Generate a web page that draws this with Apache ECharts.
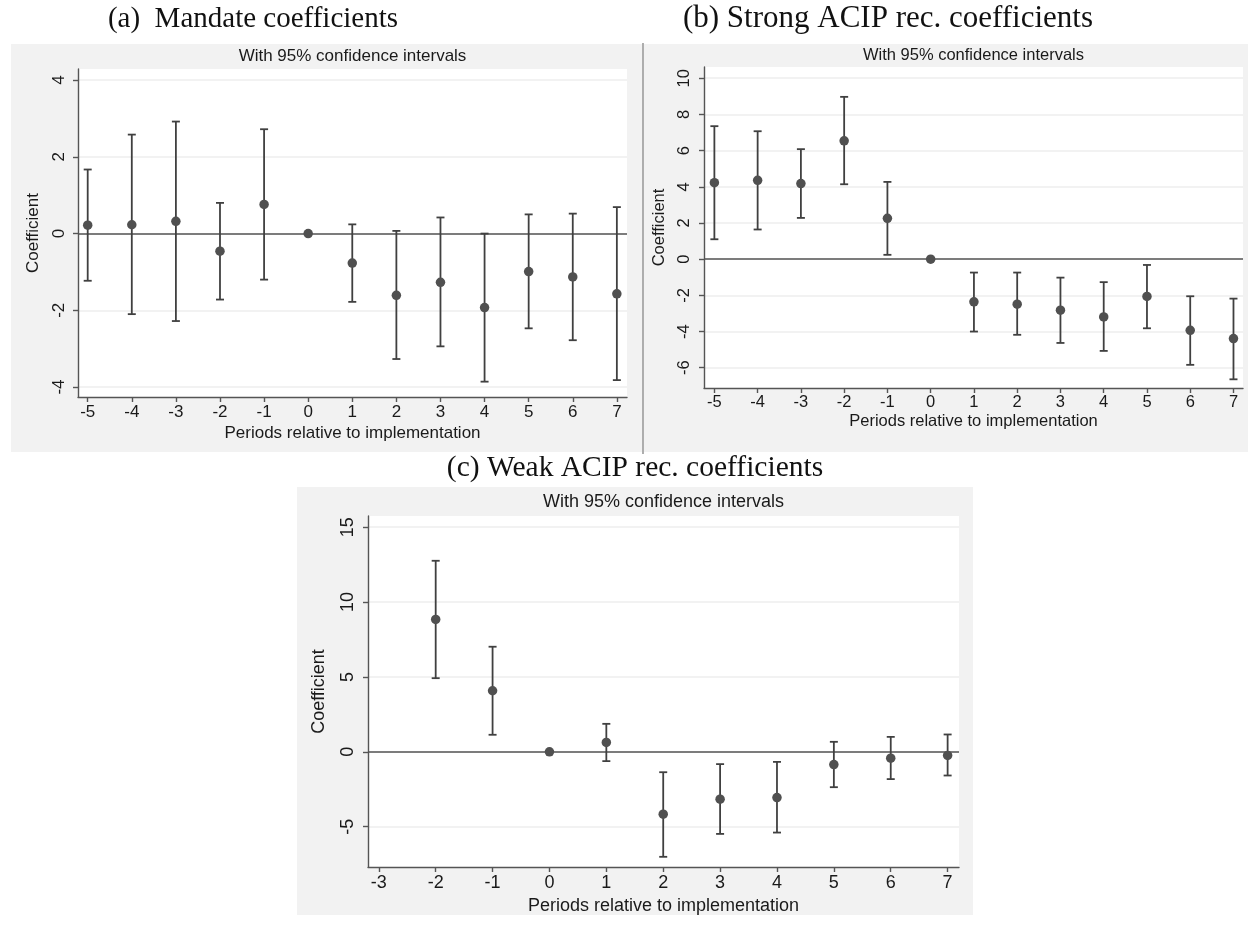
<!DOCTYPE html>
<html>
<head>
<meta charset="utf-8">
<script src="https://cdn.jsdelivr.net/npm/echarts@6/dist/echarts.min.js"></script>
<style>
html,body{margin:0;padding:0;background:#fff;}
#chart{width:1248px;height:930px;}
</style>
</head>
<body>
<div id="chart"></div>
<script>
// ---- data ----
const periodsA = [-5, -4, -3, -2, -1, 0, 1, 2, 3, 4, 5, 6, 7];
const coefA  = [0.22, 0.23, 0.32, -0.46, 0.76, 0, -0.77, -1.61, -1.27, -1.93, -0.99, -1.13, -1.57];
const upperA = [1.67, 2.58, 2.92, 0.80, 2.72, 0, 0.24, 0.07, 0.42, 0.00, 0.50, 0.52, 0.69];
const lowerA = [-1.23, -2.10, -2.28, -1.72, -1.20, 0, -1.78, -3.27, -2.94, -3.86, -2.47, -2.78, -3.82];

const periodsB = [-5, -4, -3, -2, -1, 0, 1, 2, 3, 4, 5, 6, 7];
const coefB  = [4.23, 4.36, 4.18, 6.54, 2.26, 0, -2.36, -2.49, -2.82, -3.19, -2.06, -3.93, -4.39];
const upperB = [7.35, 7.07, 6.08, 8.97, 4.27, 0, -0.74, -0.74, -1.02, -1.27, -0.32, -2.05, -2.18];
const lowerB = [1.10, 1.64, 2.28, 4.14, 0.24, 0, -4.00, -4.18, -4.63, -5.07, -3.82, -5.84, -6.64];

const periodsC = [-2, -1, 0, 1, 2, 3, 4, 5, 6, 7];
const coefC  = [8.84, 4.08, 0, 0.63, -4.16, -3.16, -3.05, -0.85, -0.42, -0.24];
const upperC = [12.76, 7.02, 0, 1.87, -1.36, -0.82, -0.67, 0.67, 1.00, 1.16];
const lowerC = [4.92, 1.14, 0, -0.62, -7.01, -5.48, -5.39, -2.36, -1.82, -1.58];

const xTicksA = [-5, -4, -3, -2, -1, 0, 1, 2, 3, 4, 5, 6, 7];
const yTicksA = [-4, -2, 0, 2, 4];
const xTicksB = [-5, -4, -3, -2, -1, 0, 1, 2, 3, 4, 5, 6, 7];
const yTicksB = [-6, -4, -2, 0, 2, 4, 6, 8, 10];
const xTicksC = [-3, -2, -1, 0, 1, 2, 3, 4, 5, 6, 7];
const yTicksC = [-5, 0, 5, 10, 15];

const panelTitles = ['(a)  Mandate coefficients', '(b) Strong ACIP rec. coefficients', '(c) Weak ACIP rec. coefficients'];
const subtitleText = 'With 95% confidence intervals';
const xName = 'Periods relative to implementation';
const yName = 'Coefficient';

// ---- layout / style ----
const SANS = 'Liberation Sans, Arial, sans-serif';
const SERIF = 'Liberation Serif, Times New Roman, serif';
const panels = [
  {grid:{left:78, top:69, width:549, height:328}, x:[-5.22, 7.23], y:[-4.26, 4.29],
   xt:xTicksA, yt:yTicksA, fs:17, xLabM:7, xNameG:28, yLabM:10, yNameG:36,
   periods:periodsA, coef:coefA, up:upperA, lo:lowerA},
  {grid:{left:704, top:67, width:539, height:321}, x:[-5.24, 7.22], y:[-7.12, 10.62],
   xt:xTicksB, yt:yTicksB, fs:16.5, xLabM:6, xNameG:25, yLabM:11, yNameG:36,
   periods:periodsB, coef:coefB, up:upperB, lo:lowerB},
  {grid:{left:368, top:516, width:591, height:351}, x:[-3.19, 7.2], y:[-7.69, 15.75],
   xt:xTicksC, yt:yTicksC, fs:18, xLabM:7, xNameG:30, yLabM:11, yNameG:40,
   periods:periodsC, coef:coefC, up:upperC, lo:lowerC}
];

const grids = [], xAxes = [], yAxes = [], series = [];
panels.forEach((p, i) => {
  grids.push(Object.assign({show:true, backgroundColor:'#ffffff', borderWidth:0, containLabel:false}, p.grid));
  xAxes.push({
    type:'value', gridIndex:i, min:p.x[0], max:p.x[1],
    name:xName, nameLocation:'middle', nameGap:p.xNameG,
    nameTextStyle:{fontFamily:SANS, fontSize:p.fs, color:'#1a1a1a'},
    axisLine:{show:true, onZero:false, lineStyle:{color:'#555', width:1.4}},
    axisTick:{show:true, length:5, customValues:p.xt, lineStyle:{color:'#555', width:1.4}},
    axisLabel:{customValues:p.xt, margin:p.xLabM, fontFamily:SANS, fontSize:p.fs, color:'#1a1a1a'},
    splitLine:{show:false}
  });
  yAxes.push({
    type:'value', gridIndex:i, min:p.y[0], max:p.y[1],
    name:yName, nameLocation:'middle', nameGap:p.yNameG, nameRotate:90,
    nameTextStyle:{fontFamily:SANS, fontSize:p.fs, color:'#1a1a1a'},
    axisLine:{show:true, onZero:false, lineStyle:{color:'#555', width:1.4}},
    axisTick:{show:true, length:5, customValues:p.yt, lineStyle:{color:'#555', width:1.4}},
    axisLabel:{customValues:p.yt, rotate:90, margin:p.yLabM, fontFamily:SANS, fontSize:p.fs, color:'#1a1a1a'},
    splitLine:{show:true, lineStyle:{color:'#eeeeee', width:1.5}}
  });
  const bars = p.periods.map((x, k) => [x, p.lo[k], p.up[k]]);
  series.push({
    type:'custom', xAxisIndex:i, yAxisIndex:i, data:bars, z:3,
    encode:{x:0, y:[1, 2]},
    renderItem:(params, api) => {
      const x = api.value(0), lo = api.value(1), hi = api.value(2);
      if (lo === hi) return null;
      const a = api.coord([x, lo]), b = api.coord([x, hi]);
      const hw = 4;
      const st = {stroke:'#404040', lineWidth:1.8};
      return {type:'group', children:[
        {type:'line', shape:{x1:a[0], y1:a[1], x2:b[0], y2:b[1]}, style:st},
        {type:'line', shape:{x1:a[0]-hw, y1:a[1], x2:a[0]+hw, y2:a[1]}, style:st},
        {type:'line', shape:{x1:b[0]-hw, y1:b[1], x2:b[0]+hw, y2:b[1]}, style:st}
      ]};
    }
  });
  series.push({
    type:'scatter', xAxisIndex:i, yAxisIndex:i, z:4,
    data:p.periods.map((x, k) => [x, p.coef[k]]),
    symbol:'circle', symbolSize:9.5,
    itemStyle:{color:'#505050', opacity:1},
    markLine:{silent:true, symbol:'none', animation:false, z:2,
      label:{show:false},
      lineStyle:{color:'#555', width:1.5, type:'solid'},
      data:[{yAxis:0}]}
  });
});

const graphic = [
  {type:'rect', shape:{x:11, y:44, width:631, height:408}, style:{fill:'#f2f2f2'}, z:-10},
  {type:'rect', shape:{x:644, y:44, width:604, height:408}, style:{fill:'#f2f2f2'}, z:-10},
  {type:'rect', shape:{x:297, y:487, width:676, height:428}, style:{fill:'#f2f2f2'}, z:-10},
  {type:'line', shape:{x1:643, y1:43, x2:643, y2:454}, style:{stroke:'#777', lineWidth:1.2}, z:-5},
  {type:'text', x:253, y:19, style:{text:panelTitles[0], font:'29px ' + SERIF, fill:'#111', textAlign:'center', textVerticalAlign:'middle'}},
  {type:'text', x:888, y:19, style:{text:panelTitles[1], font:'31px ' + SERIF, fill:'#111', textAlign:'center', textVerticalAlign:'middle'}},
  {type:'text', x:635, y:468, style:{text:panelTitles[2], font:'29.5px ' + SERIF, fill:'#111', textAlign:'center', textVerticalAlign:'middle'}},
  {type:'text', x:352.5, y:56, style:{text:subtitleText, font:'17px ' + SANS, fill:'#1a1a1a', textAlign:'center', textVerticalAlign:'middle'}},
  {type:'text', x:973.5, y:55, style:{text:subtitleText, font:'16.5px ' + SANS, fill:'#1a1a1a', textAlign:'center', textVerticalAlign:'middle'}},
  {type:'text', x:663.5, y:502, style:{text:subtitleText, font:'18px ' + SANS, fill:'#1a1a1a', textAlign:'center', textVerticalAlign:'middle'}}
];

const chart = echarts.init(document.getElementById('chart'), null, {renderer:'canvas'});
chart.setOption({
  animation:false,
  backgroundColor:'#ffffff',
  grid:grids, xAxis:xAxes, yAxis:yAxes, series:series, graphic:graphic
});
</script>
</body>
</html>
